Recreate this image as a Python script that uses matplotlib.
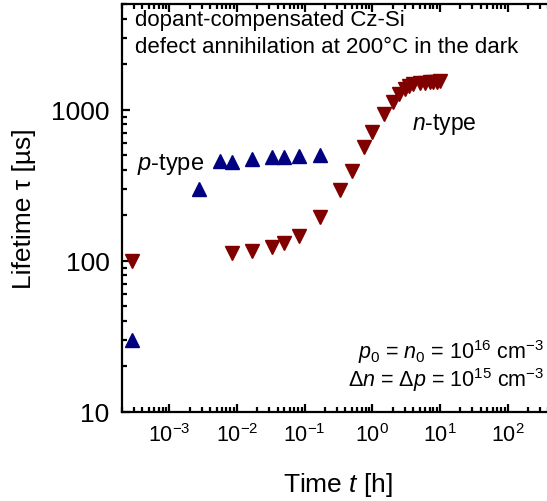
import matplotlib
matplotlib.use('Agg')
import matplotlib.pyplot as plt
from matplotlib.ticker import LogLocator, NullFormatter, FixedLocator

plt.rcParams['font.family'] = ['Liberation Sans', 'DejaVu Sans']
plt.rcParams['mathtext.fontset'] = 'custom'
plt.rcParams['mathtext.rm'] = 'Liberation Sans'
plt.rcParams['mathtext.it'] = 'Liberation Sans:italic'
plt.rcParams['mathtext.default'] = 'regular'

# p-type (blue up triangles): time in h, lifetime in us
p_time = [2.78e-4, 2.78e-3, 5.56e-3, 8.33e-3, 0.0167, 0.0333, 0.05, 0.0833, 0.167]
p_tau = [30, 298, 460, 449, 472, 484, 484, 492, 502]

# n-type (red down triangles)
n_time = [2.78e-4, 8.33e-3, 0.0167, 0.0333, 0.05, 0.0833, 0.167, 0.333, 0.5, 0.75,
          1.0, 1.5, 2.0, 2.5, 3.0, 3.5, 4.0, 5.0, 6.0, 7.0, 8.0, 9.0, 10.0]
n_tau = [100, 112, 116, 124, 132, 146, 194, 295, 393, 565,
         711, 941, 1125, 1277, 1380, 1440, 1480, 1500, 1510, 1520, 1530, 1535, 1545]

xtick_vals = [1e-3, 1e-2, 1e-1, 1e0, 1e1, 1e2]
xtick_labels = ['$10^{-3}$', '$10^{-2}$', '$10^{-1}$', '$10^{0}$', '$10^{1}$', '$10^{2}$']
ytick_vals = [10, 100, 1000]
ytick_labels = ['10', '100', '1000']

fig = plt.figure(figsize=(5.47, 5.02), dpi=100)
# right spine sits just beyond the picture edge, like the cropped original
ax = fig.add_axes([122/547, (502-413)/502, 433/547, 408/502])

ax.plot(p_time, p_tau, linestyle='none', marker='^', ms=10, color='#000080', mec='#000080')
ax.plot(n_time, n_tau, linestyle='none', marker='v', ms=10, color='#800000', mec='#800000')

ax.set_xscale('log')
ax.set_yscale('log')
ax.set_xlim(2e-4, 500)
ax.set_ylim(10, 5000)

ax.xaxis.set_major_locator(FixedLocator(xtick_vals))
ax.set_xticklabels(xtick_labels)
ax.yaxis.set_major_locator(FixedLocator(ytick_vals))
ax.set_yticklabels(ytick_labels)
for axis in (ax.xaxis, ax.yaxis):
    axis.set_minor_locator(LogLocator(base=10, subs=range(2, 10), numticks=20))
    axis.set_minor_formatter(NullFormatter())

for s in ax.spines.values():
    s.set_linewidth(1.6)
ax.tick_params(which='both', direction='in', top=True, right=True, width=1.6)
ax.tick_params(which='major', length=6)
ax.tick_params(which='minor', length=3.5)
ax.tick_params(axis='x', which='major', labelsize=15.5, pad=8)
ax.tick_params(axis='y', which='major', labelsize=19, pad=9)

ax.set_xlabel('Time $\\mathit{t}$ [h]', fontsize=19, labelpad=17)
ax.set_ylabel('Lifetime τ [µs]', fontsize=19, labelpad=10.5)

ax.text(0.030, 0.963, 'dopant-compensated Cz-Si', transform=ax.transAxes,
        fontsize=16, va='center', ha='left')
ax.text(0.030, 0.895, 'defect annihilation at 200°C in the dark', transform=ax.transAxes,
        fontsize=16, va='center', ha='left')
ax.text(0.035, 0.608, '$\\mathit{p}$-type', transform=ax.transAxes,
        fontsize=17, va='center', ha='left')
ax.text(0.67, 0.706, '$\\mathit{n}$-type', transform=ax.transAxes,
        fontsize=16.5, va='center', ha='left')
ax.text(0.975, 0.150, '$\\mathit{p}_0$ = $\\mathit{n}_0$ = 10$^{16}$ cm$^{-3}$',
        transform=ax.transAxes, fontsize=15.5, va='center', ha='right')
ax.text(0.975, 0.081, 'Δ$\\mathit{n}$ = Δ$\\mathit{p}$ = 10$^{15}$ cm$^{-3}$',
        transform=ax.transAxes, fontsize=15.5, va='center', ha='right')

fig.savefig('out.png', dpi=100)
